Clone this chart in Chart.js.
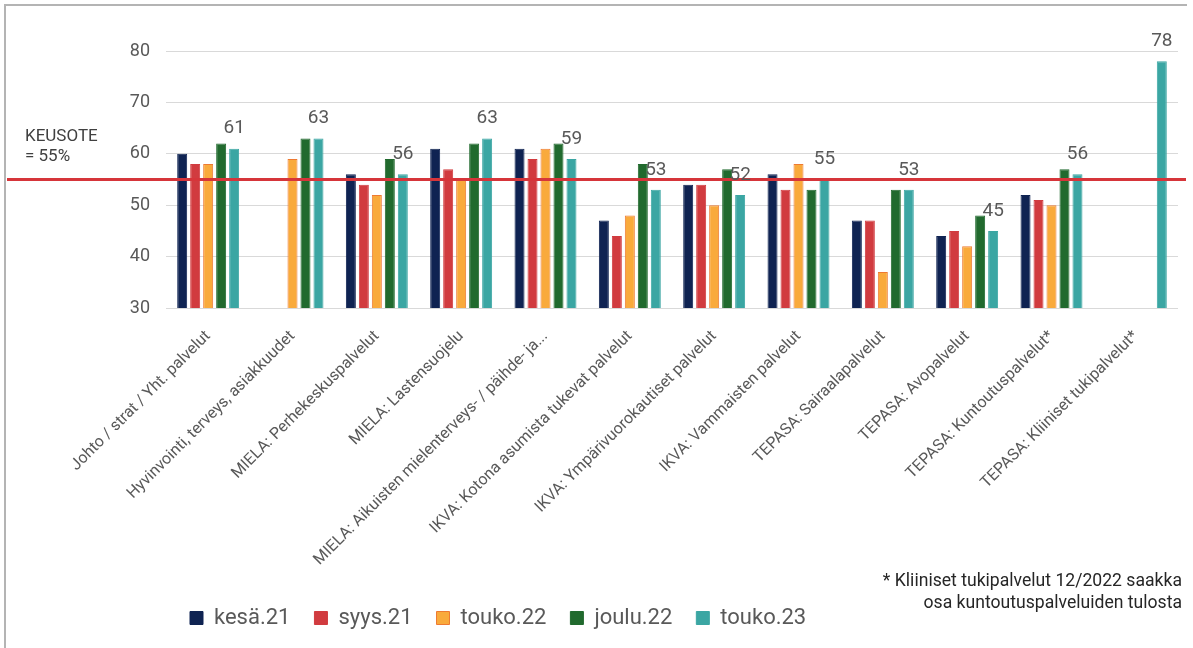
<!DOCTYPE html>
<html lang="fi">
<head>
<meta charset="utf-8">
<title>KEUSOTE</title>
<script src="https://cdn.jsdelivr.net/npm/chart.js@4.4.1/dist/chart.umd.min.js"></script>
<style>
  body { margin: 0; background: #fff; }
  #wrap { position: relative; width: 1193px; height: 648px; overflow: hidden; }
  #frame { position: absolute; left: 4px; top: 4px; width: 1181px; height: 660px; border-top: 2px solid #b4b4b4; border-left: 2px solid #b4b4b4; }
  #note { position: absolute; right: 11px; top: 569px; font: 17.6px Roboto, sans-serif; color: #262626; text-align: right; line-height: 22px; }
  canvas { position: absolute; left: 0; top: 0; }
</style>
</head>
<body>
<div id="wrap">
  <div id="frame"></div>
  <canvas id="barChart" width="1193" height="648"></canvas>
  <div id="note">* Kliiniset tukipalvelut 12/2022 saakka<br>osa kuntoutuspalveluiden tulosta</div>
</div>
<script>
const categories = [
  'Johto / strat / Yht. palvelut',
  'Hyvinvointi, terveys, asiakkuudet',
  'MIELA: Perhekeskuspalvelut',
  'MIELA: Lastensuojelu',
  'MIELA: Aikuisten mielenterveys- / päihde- ja...',
  'IKVA: Kotona asumista tukevat palvelut',
  'IKVA: Ympärivuorokautiset palvelut',
  'IKVA: Vammaisten palvelut',
  'TEPASA: Sairaalapalvelut',
  'TEPASA: Avopalvelut',
  'TEPASA: Kuntoutuspalvelut*',
  'TEPASA: Kliiniset tukipalvelut*'
];

const kesa21  = [60, null, 56, 61, 61, 47, 54, 56, 47, 44, 52, null];
const syys21  = [58, null, 54, 57, 59, 44, 54, 53, 47, 45, 51, null];
const touko22 = [58, 59, 52, 55, 61, 48, 50, 58, 37, 42, 50, null];
const joulu22 = [62, 63, 59, 62, 62, 58, 57, 53, 53, 48, 57, null];
const touko23 = [61, 63, 56, 63, 59, 53, 52, 55, 53, 45, 56, 78];

const yTicks = [30, 40, 50, 60, 70, 80];
const TARGET = 55;
const TARGET_LABEL = ['KEUSOTE', '= 55%'];

// punainen tavoiteviiva + arvot viimeisimmälle sarjalle
const targetLine = {
  id: 'targetLine',
  afterDatasetsDraw(chart) {
    const { ctx, scales: { y } } = chart;
    const py = y.getPixelForValue(TARGET);
    ctx.save();
    ctx.strokeStyle = '#d6353a';
    ctx.lineWidth = 3;
    ctx.beginPath();
    ctx.moveTo(7, py);
    ctx.lineTo(1186, py);
    ctx.stroke();

    ctx.fillStyle = '#404040';
    ctx.font = '17px Roboto';
    ctx.textBaseline = 'middle';
    ctx.fillText(TARGET_LABEL[0], 25, py - 43);
    ctx.fillText(TARGET_LABEL[1], 25, py - 23);

    const meta = chart.getDatasetMeta(4);
    ctx.font = '19px Roboto';
    ctx.fillStyle = '#595959';
    ctx.textAlign = 'center';
    meta.data.forEach((bar, i) => {
      if (touko23[i] == null) return;
      ctx.fillText(touko23[i], bar.x, bar.y - 20);
    });
    ctx.restore();
  }
};

const ctx = document.getElementById('barChart').getContext('2d');
new Chart(ctx, {
  type: 'bar',
  data: {
    labels: categories,
    datasets: [
      { label: 'kesä.21', data: kesa21, backgroundColor: '#0f2352', borderColor: '#0f2352', borderWidth: 1 },
      { label: 'syys.21', data: syys21, backgroundColor: '#d13b3f', borderColor: '#d13b3f', borderWidth: 1 },
      { label: 'touko.22', data: touko22, backgroundColor: '#f9aa3c', borderColor: '#ee7a32', borderWidth: 1 },
      { label: 'joulu.22', data: joulu22, backgroundColor: '#216a2e', borderColor: '#216a2e', borderWidth: 1 },
      { label: 'touko.23', data: touko23, backgroundColor: '#3ba6a3', borderColor: '#3ba6a3', borderWidth: 1 }
    ]
  },
  options: {
    responsive: false,
    animation: false,
    categoryPercentage: 0.77,
    barPercentage: 0.77,
    layout: { padding: { top: 51, right: 15, left: 0, bottom: 9 } },
    font: { family: 'Roboto' },
    plugins: {
      tooltip: { enabled: false },
      title: { display: false },
      legend: {
        position: 'bottom',
        align: 'start',
        fullSize: false,
        labels: {
          boxWidth: 13,
          boxHeight: 13,
          padding: 24,
          color: '#595959',
          font: { family: 'Roboto', size: 22 }
        }
      }
    },
    scales: {
      x: {
        grid: { display: false, drawTicks: false },
        border: { display: false },
        ticks: {
          autoSkip: false,
          minRotation: 45,
          maxRotation: 45,
          padding: 19,
          color: '#595959',
          font: { family: 'Roboto', size: 16 }
        },
        afterFit(scale) { scale.height = 275; }
      },
      y: {
        min: yTicks[0],
        max: yTicks[yTicks.length - 1],
        afterBuildTicks(scale) { scale.ticks = yTicks.map(v => ({ value: v })); },
        ticks: {
          padding: 16,
          color: '#595959',
          font: { family: 'Roboto', size: 18 }
        },
        grid: { color: '#d9d9d9', drawTicks: false },
        border: { display: false },
        afterFit(scale) { scale.width = 166; }
      }
    }
  },
  plugins: [targetLine]
});
</script>
</body>
</html>
